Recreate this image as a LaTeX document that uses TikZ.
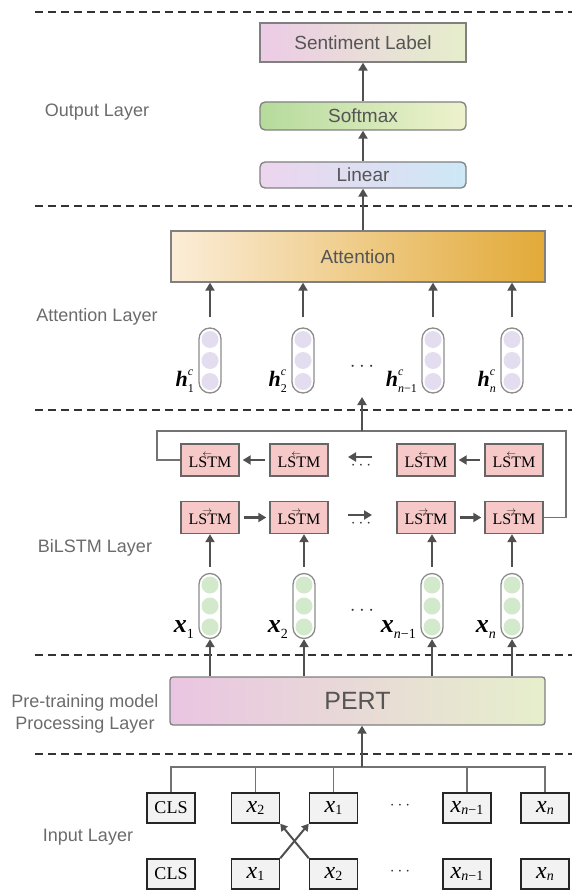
\documentclass[tikz,border=0pt]{standalone}
\usepackage{fontspec}
\setmainfont{Liberation Sans}
\newfontfamily\serif{Liberation Serif}
\usetikzlibrary{arrows.meta}

\definecolor{boxgray}{HTML}{808080}
\definecolor{arrowgray}{HTML}{505050}
\definecolor{labelgray}{HTML}{6B6B6B}
\definecolor{textgray}{HTML}{555555}
\definecolor{sentL}{HTML}{ECCBE6}
\definecolor{sentR}{HTML}{E6EECB}
\definecolor{softL}{HTML}{B5DB9C}
\definecolor{softR}{HTML}{EEF2CD}
\definecolor{linL}{HTML}{EDD5EE}
\definecolor{linR}{HTML}{CDE8F6}
\definecolor{attL}{HTML}{FBEDD8}
\definecolor{attM}{HTML}{F5DDAB}
\definecolor{attR}{HTML}{E2AA38}
\definecolor{pertL}{HTML}{EAC5E2}
\definecolor{pertR}{HTML}{E6EFCB}
\definecolor{lstmpink}{HTML}{F6C9C8}
\definecolor{hdot}{HTML}{E4DDF0}
\definecolor{xdot}{HTML}{D2EACB}
\definecolor{inputfill}{HTML}{F2F2F2}

\newcommand{\fsz}[1]{\fontsize{#1}{#1}\selectfont}
\newcommand{\lstmR}{{\serif LS\makebox[0pt]{\raisebox{11pt}{\scalebox{0.55}{$\rightarrow$}}}TM}}
\newcommand{\lstmL}{{\serif LS\makebox[0pt]{\raisebox{11pt}{\scalebox{0.55}{$\leftarrow$}}}TM}}
\newcommand{\vx}[1]{{\serif\bfseries\itshape x}\raisebox{-0.45ex}{\serif\fsz{14}#1}}
\newcommand{\ix}[1]{{\serif\itshape\fsz{24}x}\raisebox{-0.3ex}{\serif\fsz{14}#1}}
\newcommand{\vh}[1]{{\serif\bfseries\itshape h}\makebox[0pt][l]{\raisebox{1.0ex}{\serif\itshape\fsz{12}c}}\raisebox{-0.5ex}{\serif\fsz{12}#1}}

\tikzset{
  layertext/.style={text=labelgray, font=\fontsize{18}{22}\selectfont, align=center},
  outbox/.style={draw=boxgray, line width=1.3pt, text=textgray, font=\fsz{19},
    minimum width=206pt, inner sep=0pt},
  arr/.style={draw=arrowgray, line width=2.6pt, -{Triangle[length=8pt,width=9pt]}},
  layersep/.style={draw=black!80, line width=1.8pt, dash pattern=on 8pt off 5pt},
  lstmbox/.style={draw=black!60, line width=1.4pt, fill=lstmpink, font=\fsz{16},
    minimum width=58pt, minimum height=32pt, inner sep=0pt},
  inbox/.style={draw=black!85, line width=1.5pt, fill=inputfill, font=\fsz{18},
    minimum width=48pt, minimum height=30pt, inner sep=0pt},
  capsule/.style={draw=black!45, line width=1.3pt, fill=white, rounded corners=11pt,
    minimum width=22pt, minimum height=65pt, inner sep=0pt},
  thinline/.style={draw=black!55, line width=1.3pt},
  dots/.style={font=\fsz{20}, text=black!80}
}

\begin{document}
\begin{tikzpicture}[x=1pt,y=-1pt]
\useasboundingbox (0,0) rectangle (580,896);

% Layer separators
\draw[layersep] (35,12) -- (572,12);
\draw[layersep] (35,206) -- (572,206);
\draw[layersep] (35,410) -- (572,410);
\draw[layersep] (35,655) -- (572,655);
\draw[layersep] (35,754) -- (572,754);

% Layer names
\node[layertext] (outname) at (97,112) {Output Layer};
\node[layertext] (attname) at (97,317) {Attention Layer};
\node[layertext] (bilname) at (95,548) {BiLSTM Layer};
\node[layertext] (pername) at (85,714) {Pre-training model\\Processing Layer};
\node[layertext] (inname) at (88,837) {Input Layer};

% Output layer
\node[outbox, minimum height=39pt, left color=sentL, right color=sentR] (label) at (363,42.5) {Sentiment Label};
\node[outbox, minimum height=28pt, rounded corners=5pt, left color=softL, right color=softR] (softmax) at (363,116) {Softmax};
\node[outbox, minimum height=26pt, rounded corners=5pt, left color=linL, right color=linR] (linear) at (363,175) {Linear};
\draw[arr] (softmax.north) -- (label.south);
\draw[arr] (linear.north) -- (softmax.south);

% Attention layer
\node[outbox, minimum width=374pt, minimum height=51pt, left color=attL, middle color=attM, right color=attR] (attn) at (358,256.5) {Attention};
\draw[arr] (attn.north -| linear.south) -- (linear.south);

\node[capsule] (hc1) at (210,360.5) {};
\node[capsule] (hc2) at (303,360.5) {};
\node[capsule] (hc3) at (433,360.5) {};
\node[capsule] (hc4) at (512,360.5) {};
\foreach \c in {hc1,hc2,hc3,hc4}{
  \foreach \dy in {-21,0,21}
    \fill[hdot] ([yshift=\dy pt]\c.center) circle (8.5pt);
  \draw[arr, shorten <=10pt] (\c.north) -- (\c.north |- attn.south);
}
\node[anchor=base east, font=\fsz{22}] (h1) at ([xshift=-1pt, yshift=7pt]hc1.south west) {\vh{1}};
\node[anchor=base east, font=\fsz{22}] (h2) at ([xshift=-1pt, yshift=7pt]hc2.south west) {\vh{2}};
\node[anchor=base east, font=\fsz{22}] (h3) at ([xshift=-1pt, yshift=7pt]hc3.south west) {\vh{\textit{n}−1}};
\node[anchor=base east, font=\fsz{22}] (h4) at ([xshift=-1pt, yshift=7pt]hc4.south west) {\vh{\textit{n}}};
\node[dots] (hdots) at (362,367) {$\cdots$};

% BiLSTM layer
\node[lstmbox] (lstmb1) at (210,460) {\lstmL};
\node[lstmbox] (lstmb2) at (299,460) {\lstmL};
\node[lstmbox] (lstmb3) at (426,460) {\lstmL};
\node[lstmbox] (lstmb4) at (514,460) {\lstmL};
\node[lstmbox] (lstmf1) at (210,517.5) {\lstmR};
\node[lstmbox] (lstmf2) at (299,517.5) {\lstmR};
\node[lstmbox] (lstmf3) at (426,517.5) {\lstmR};
\node[lstmbox] (lstmf4) at (514,517.5) {\lstmR};
\draw[arr, shorten <=4pt, shorten >=3pt] (lstmb2.west) -- (lstmb1.east);
\draw[arr, shorten <=4pt, shorten >=3pt] (lstmb4.west) -- (lstmb3.east);
\draw[arr, shorten <=4pt, shorten >=3pt] (lstmf1.east) -- (lstmf2.west);
\draw[arr, shorten <=4pt, shorten >=3pt] (lstmf3.east) -- (lstmf4.west);
\coordinate (gapb) at (372,457);
\coordinate (gapf) at (348,515);
\draw[arr, line width=2.2pt] (gapb) -- ++(-24,0);
\draw[arr, line width=2.2pt] (gapf) -- ++(24,0);
\node[dots, font=\fsz{16}] (bdots) at (361,466) {$\cdots$};
\node[dots, font=\fsz{16}] (fdots) at (361,524) {$\cdots$};

% loop from last forward cell back to first backward cell
\coordinate (loopR) at (566,431);
\coordinate (loopL) at (157,431);
\coordinate (loopT) at (362,431);
\draw[thinline] (lstmf4.east) -| (loopR) -- (loopL) |- (lstmb1.west);
\draw[arr] (loopT) -- ++(0,-34);

\node[capsule] (xc1) at (210,606) {};
\node[capsule] (xc2) at (304,606) {};
\node[capsule] (xc3) at (432,606) {};
\node[capsule] (xc4) at (512,606) {};
\foreach \c in {xc1,xc2,xc3,xc4}{
  \foreach \dy in {-21,0,21}
    \fill[xdot] ([yshift=\dy pt]\c.center) circle (8.5pt);
  \draw[arr, shorten <=6pt] (\c.north) -- (\c.north |- lstmf1.south);
}
\node[anchor=base east, font=\fsz{26}] (x1) at ([xshift=-1pt, yshift=7pt]xc1.south west) {\vx{1}};
\node[anchor=base east, font=\fsz{26}] (x2) at ([xshift=-1pt, yshift=7pt]xc2.south west) {\vx{2}};
\node[anchor=base east, font=\fsz{26}] (x3) at ([xshift=-1pt, yshift=7pt]xc3.south west) {\vx{\textit{n}−1}};
\node[anchor=base east, font=\fsz{26}] (x4) at ([xshift=-1pt, yshift=7pt]xc4.south west) {\vx{\textit{n}}};
\node[dots] (xdots) at (362,611) {$\cdots$};

% Pre-training layer
\node[outbox, minimum width=375pt, minimum height=48pt, rounded corners=3pt, font=\fsz{25},
  left color=pertL, right color=pertR] (pert) at (357.5,701) {PERT};
\draw[arr] (pert.north -| xc1.south) -- (xc1.south);
\draw[arr] (pert.north -| xc2.south) -- (xc2.south);
\draw[arr] (pert.north -| xc3.south) -- (xc3.south);
\draw[arr] (pert.north -| xc4.south) -- (xc4.south);

% Input layer
\node[inbox] (int1) at (171,808) {\serif CLS};
\node[inbox] (int2) at (255.5,808) {\ix{2}};
\node[inbox] (int3) at (333.5,808) {\ix{1}};
\node[inbox] (int4) at (467,808) {\ix{\textit{n}−1}};
\node[inbox] (int5) at (545,808) {\ix{\textit{n}}};
\node[inbox] (inb1) at (171,874) {\serif CLS};
\node[inbox] (inb2) at (255.5,874) {\ix{1}};
\node[inbox] (inb3) at (333.5,874) {\ix{2}};
\node[inbox] (inb4) at (467,874) {\ix{\textit{n}−1}};
\node[inbox] (inb5) at (545,874) {\ix{\textit{n}}};
\node[dots, font=\fsz{16}] (tdots) at (400,806) {$\cdots$};
\node[dots, font=\fsz{16}] (bdots2) at (400,872) {$\cdots$};
\draw[arr, line width=2pt, -{Triangle[length=7pt,width=8pt]}] (inb2.north east) -- (int3.south west);
\draw[arr, line width=2pt, -{Triangle[length=7pt,width=8pt]}] (inb3.north west) -- (int2.south east);

% bus to PERT
\coordinate (bus) at (362,767);
\draw[thinline] (int1.north) -- (int1.north |- bus) -- (int5.north |- bus) -- (int5.north);
\draw[thinline] (int2.north) -- (int2.north |- bus);
\draw[thinline] (int3.north) -- (int3.north |- bus);
\draw[thinline] (int4.north) -- (int4.north |- bus);
\draw[arr] (bus) -- (bus |- pert.south);
\end{tikzpicture}
\end{document}
